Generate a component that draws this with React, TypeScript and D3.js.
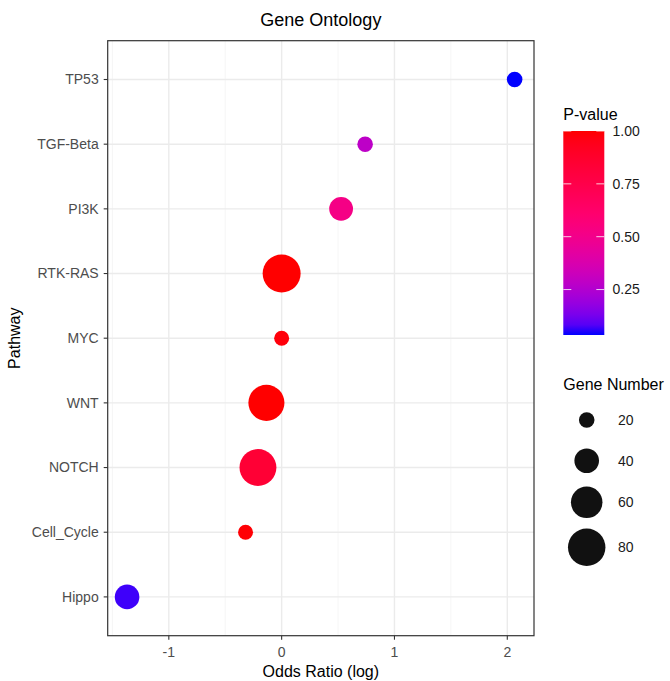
import React from "react";
import * as d3 from "d3";

const pathways = ["TP53", "TGF-Beta", "PI3K", "RTK-RAS", "MYC", "WNT", "NOTCH", "Cell_Cycle", "Hippo"];
const oddsRatioLog = [2.065, 0.74, 0.527, 0.0, 0.0, -0.135, -0.21, -0.32, -1.37];
const geneNumber = [20, 20, 38, 82, 19, 75, 78, 19, 40];
const pValue = [0.035, 0.28, 0.52, 1.0, 0.98, 1.0, 0.84, 0.99, 0.06];

const xTicks = [-1, 0, 1, 2];
const xMinor = [-1.5, -0.5, 0.5, 1.5];
const pTicks = [0.25, 0.5, 0.75, 1.0];
const sizeBreaks = [20, 40, 60, 80];

const W = 670;
const H = 681;
const panel = { left: 107.7, right: 534, top: 40.7, bottom: 635.7 };
const FONT = "'Liberation Sans', Arial, Helvetica, sans-serif";

export default function App() {
  const xExt = d3.extent(oddsRatioLog) as [number, number];
  const xPad = (xExt[1] - xExt[0]) * 0.05;
  const x = d3.scaleLinear().domain([xExt[0] - xPad, xExt[1] + xPad]).range([panel.left, panel.right]);

  const y = d3
    .scalePoint<string>()
    .domain(pathways)
    .range([panel.top, panel.bottom])
    .padding(0.6);

  const size = d3
    .scalePow()
    .exponent(0.5)
    .domain(d3.extent(geneNumber) as [number, number])
    .range([7.5, 19]);

  const pExt = d3.extent(pValue) as [number, number];
  const color = d3.scaleLinear<string>().domain(pExt).range(["blue", "red"]).interpolate(d3.interpolateHcl);

  const cb = { x: 563.3, w: 41, top: 131, bottom: 335 };
  const cbScale = d3.scaleLinear().domain(pExt).range([cb.bottom, cb.top]);
  const gradStops = d3.range(0, 1.0001, 0.05).map((t) => ({
    offset: t,
    c: color(pExt[0] + (pExt[1] - pExt[0]) * t),
  }));

  const sizeLegendY = [420, 460.7, 502.3, 547.3];
  const data = pathways.map((p, i) => ({ p, x: oddsRatioLog[i], n: geneNumber[i], pv: pValue[i] }));

  return (
    <svg width={W} height={H} style={{ position: "absolute", left: 0, top: 0, background: "#fff" }} fontFamily={FONT}>
      <rect x={0} y={0} width={W} height={H} fill="#fff" />
      {/* grid */}
      {xMinor.map((v) => (
        <line key={"mn" + v} x1={x(v)} x2={x(v)} y1={panel.top} y2={panel.bottom} stroke="#F2F2F2" strokeWidth={0.8} />
      ))}
      {xTicks.map((v) => (
        <line key={"mj" + v} x1={x(v)} x2={x(v)} y1={panel.top} y2={panel.bottom} stroke="#EBEBEB" strokeWidth={1.4} />
      ))}
      {pathways.map((p) => (
        <line key={"hy" + p} x1={panel.left} x2={panel.right} y1={y(p)} y2={y(p)} stroke="#EBEBEB" strokeWidth={1.4} />
      ))}
      {/* points */}
      {data.map((d) => (
        <circle key={d.p} cx={x(d.x)} cy={y(d.p)} r={size(d.n)} fill={color(d.pv)} />
      ))}
      {/* border */}
      <rect
        x={panel.left}
        y={panel.top}
        width={panel.right - panel.left}
        height={panel.bottom - panel.top}
        fill="none"
        stroke="#333333"
        strokeWidth={1.2}
      />
      {/* y axis */}
      {pathways.map((p) => (
        <g key={"yt" + p}>
          <line x1={panel.left - 4} x2={panel.left} y1={y(p)} y2={y(p)} stroke="#333333" strokeWidth={1.1} />
          <text x={panel.left - 9} y={y(p)} dy="0.35em" textAnchor="end" fontSize={14} fill="#4D4D4D">
            {p}
          </text>
        </g>
      ))}
      {/* x axis */}
      {xTicks.map((v) => (
        <g key={"xt" + v}>
          <line x1={x(v)} x2={x(v)} y1={panel.bottom} y2={panel.bottom + 4} stroke="#333333" strokeWidth={1.1} />
          <text x={x(v)} y={656.5} textAnchor="middle" fontSize={14} fill="#4D4D4D">
            {v}
          </text>
        </g>
      ))}
      {/* titles */}
      <text x={(panel.left + panel.right) / 2} y={26} textAnchor="middle" fontSize={18} fill="#000">
        Gene Ontology
      </text>
      <text x={(panel.left + panel.right) / 2} y={677} textAnchor="middle" fontSize={16} fill="#000">
        Odds Ratio (log)
      </text>
      <text
        transform={`translate(20,${(panel.top + panel.bottom) / 2}) rotate(-90)`}
        textAnchor="middle"
        fontSize={16}
        fill="#000"
      >
        Pathway
      </text>
      {/* colour legend */}
      <defs>
        <linearGradient id="pgrad" x1="0" y1="1" x2="0" y2="0">
          {gradStops.map((s) => (
            <stop key={s.offset} offset={s.offset} stopColor={s.c} />
          ))}
        </linearGradient>
      </defs>
      <text x={cb.x} y={120} fontSize={16} fill="#000">
        P-value
      </text>
      <rect x={cb.x} y={cb.top} width={cb.w} height={cb.bottom - cb.top} fill="url(#pgrad)" />
      {pTicks.map((v) => (
        <g key={"pt" + v}>
          <line x1={cb.x} x2={cb.x + 8} y1={cbScale(v)} y2={cbScale(v)} stroke="#fff" strokeWidth={1} opacity={0.8} />
          <line x1={cb.x + cb.w - 8} x2={cb.x + cb.w} y1={cbScale(v)} y2={cbScale(v)} stroke="#fff" strokeWidth={1} opacity={0.8} />
          <text x={612.5} y={cbScale(v)} dy="0.35em" fontSize={14} fill="#1a1a1a">
            {v.toFixed(2)}
          </text>
        </g>
      ))}
      {/* size legend */}
      <text x={cb.x} y={389.5} fontSize={16} fill="#000">
        Gene Number
      </text>
      {sizeBreaks.map((n, i) => (
        <g key={"sb" + n}>
          <circle cx={586.7} cy={sizeLegendY[i]} r={size(n)} fill="#111" />
          <text x={618} y={sizeLegendY[i]} dy="0.35em" fontSize={14} fill="#1a1a1a">
            {n}
          </text>
        </g>
      ))}
    </svg>
  );
}
